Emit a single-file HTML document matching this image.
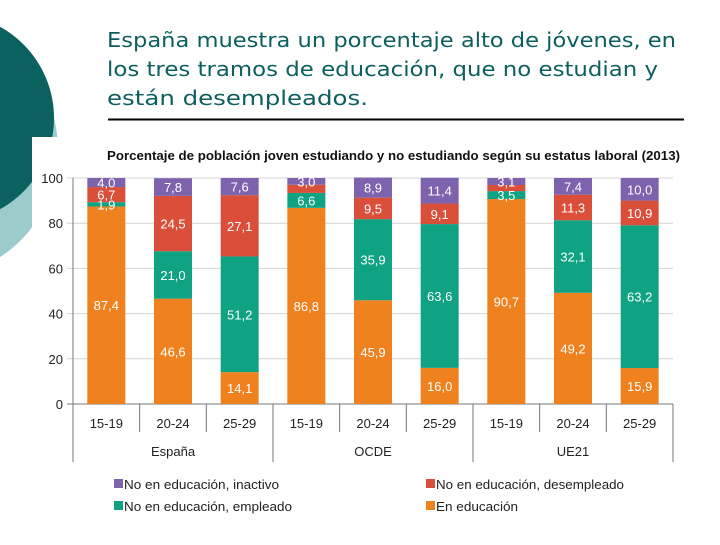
<!DOCTYPE html>
<html><head><meta charset="utf-8"><style>
body{margin:0;width:720px;height:540px;overflow:hidden;background:#fff;font-family:"Liberation Sans",sans-serif}
</style></head><body>
<svg width="720" height="540" xmlns="http://www.w3.org/2000/svg">
<circle cx="-70" cy="150" r="128" fill="#9ccbcc"/>
<circle cx="-50" cy="118" r="104" fill="#0b6160"/>
<rect x="32" y="137" width="660" height="403" fill="#fff"/>
<g font-size="20" fill="#0d5f5f" font-family="DejaVu Sans, sans-serif">
<text x="107" y="47" textLength="569" lengthAdjust="spacingAndGlyphs">España muestra un porcentaje alto de jóvenes, en</text>
<text x="107" y="76" textLength="551" lengthAdjust="spacingAndGlyphs">los tres tramos de educación, que no estudian y</text>
<text x="107" y="105" textLength="261" lengthAdjust="spacingAndGlyphs">están desempleados.</text>
</g>
<line x1="108" y1="119.5" x2="684" y2="119.5" stroke="#000" stroke-width="2"/>
<text x="107" y="160" font-size="13" font-weight="bold" textLength="573" lengthAdjust="spacingAndGlyphs" fill="#111">Porcentaje de población joven estudiando y no estudiando según su estatus laboral (2013)</text>
<g id="chart"></g>
<g font-size="13" fill="#222">
<rect x="114" y="479" width="9" height="9" fill="#7d62ad"/>
<text x="124" y="489" textLength="155" lengthAdjust="spacingAndGlyphs">No en educación, inactivo</text>
<rect x="426" y="479" width="9" height="9" fill="#d94f3a"/>
<text x="436" y="489" textLength="188" lengthAdjust="spacingAndGlyphs">No en educación, desempleado</text>
<rect x="114" y="501" width="9" height="9" fill="#0fa283"/>
<text x="124" y="511" textLength="168" lengthAdjust="spacingAndGlyphs">No en educación, empleado</text>
<rect x="426" y="501" width="9" height="9" fill="#ef811f"/>
<text x="436" y="511" textLength="82" lengthAdjust="spacingAndGlyphs">En educación</text>
</g>
</svg>
<script>
const categories=["15-19","20-24","25-29","15-19","20-24","25-29","15-19","20-24","25-29"];
const groups=["España","OCDE","UE21"];
const enEducacion=[87.4,46.6,14.1,86.8,45.9,16.0,90.7,49.2,15.9];
const empleado=[1.9,21.0,51.2,6.6,35.9,63.6,3.5,32.1,63.2];
const desempleado=[6.7,24.5,27.1,3.6,9.5,9.1,2.7,11.3,10.9];
const inactivo=[4.0,7.8,7.6,3.0,8.9,11.4,3.1,7.4,10.0];
const yTicks=[0,20,40,60,80,100];
const NS="http://www.w3.org/2000/svg";
const g=document.getElementById('chart');
const x0=73,x1=673,yB=404,yT=178;
const bandW=(x1-x0)/categories.length;
const yScale=v=>yB-(v/100)*(yB-yT);
const xCenter=i=>x0+bandW*(i+0.5);
function mk(t,a){const e=document.createElementNS(NS,t);for(const k in a)e.setAttribute(k,a[k]);g.appendChild(e);return e;}
yTicks.forEach(t=>{
 const l=mk('line',{x1:x0-6,x2:x1,y1:yScale(t),y2:yScale(t),stroke:t===0?'#777':'#d4d4d4','stroke-width':1});
 
 
 const tx=mk('text',{x:x0-10,y:yScale(t)+5,'text-anchor':'end','font-size':13,fill:'#222'});
 tx.textContent=t;
 
 
});
const series=[[enEducacion,'#ef811f','educacion'],[empleado,'#0fa283','empleado'],[desempleado,'#d94f3a','desempleado'],[inactivo,'#7d62ad','inactivo']];
const bw=38;
categories.forEach((c,i)=>{
 let acc=0;
 series.forEach(([arr,col,nm])=>{
  const v=arr[i];const yt=yScale(acc+v),yb=yScale(acc);
  const r=mk('rect',{x:xCenter(i)-bw/2,y:yt,width:bw,height:yb-yt,fill:col});
  
  
  acc+=v;
 });
 acc=0;
 series.forEach(([arr,col,nm])=>{
  const v=arr[i];const yt=yScale(acc+v),yb=yScale(acc);
  acc+=v;
  if(nm==='desempleado'&&v<4)return;
  const t=mk('text',{x:xCenter(i),y:(yt+yb)/2+5,'text-anchor':'middle','font-size':13,fill:'#fff'});
  t.textContent=v.toFixed(1).replace('.',',');
  
  
 });
 const lab=mk('text',{x:xCenter(i),y:428,'text-anchor':'middle','font-size':13,fill:'#222'});
 lab.textContent=c;
 
 
});
for(let i=0;i<=categories.length;i++){
 const grp=i%3===0;
 const l=mk('line',{x1:x0+bandW*i,x2:x0+bandW*i,y1:yB,y2:grp?462:432,stroke:'#777','stroke-width':1});
 
 
}
groups.forEach((gr,j)=>{
 const t=mk('text',{x:x0+bandW*(3*j+1.5),y:456,'text-anchor':'middle','font-size':13,fill:'#222'});
 t.textContent=gr;
 
 
});
const ax=mk('line',{x1:x0,x2:x0,y1:yT,y2:yB,stroke:'#777'});


</script>
</body></html>
